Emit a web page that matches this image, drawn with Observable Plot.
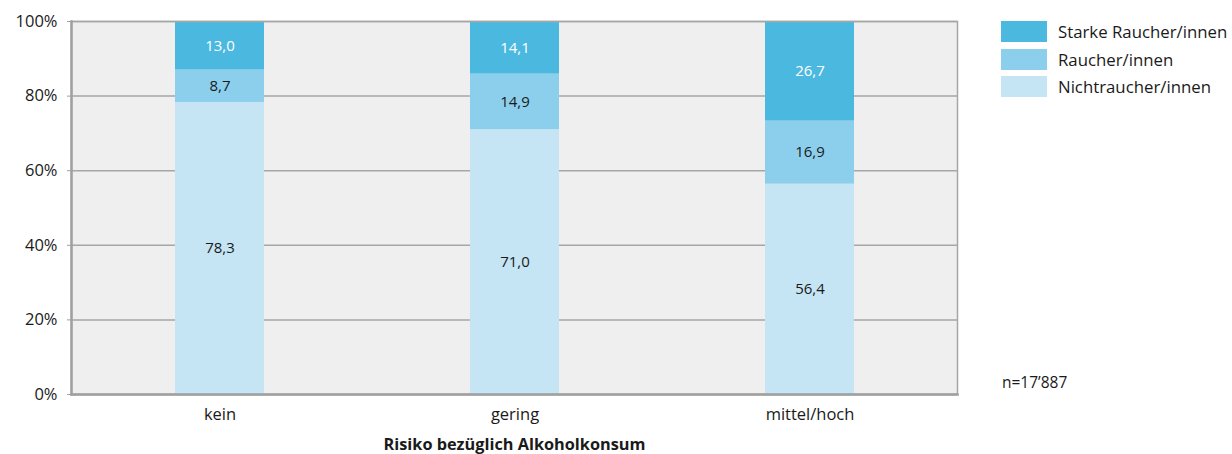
<!DOCTYPE html>
<html>
<head>
<meta charset="utf-8">
<script src="https://cdn.jsdelivr.net/npm/d3@7"></script>
<script src="https://cdn.jsdelivr.net/npm/@observablehq/plot@0.6"></script>
<style>
  html, body { margin: 0; padding: 0; background: #fff; }
  #wrap { position: relative; width: 1232px; height: 454px; font-family: "Open Sans", sans-serif; color: #1a1a1a; }
  #legend { position: absolute; left: 1001px; top: 18px; }
  .item { display: flex; align-items: center; height: 27.5px; font-size: 16.8px; }
  .sw { width: 46px; height: 21px; margin-right: 11px; flex: none; }
  #note { position: absolute; left: 1002px; top: 371px; font-size: 15.5px; }
</style>
</head>
<body>
<div id="wrap"></div>
<script>
const categories = ["kein", "gering", "mittel/hoch"];
const series = ["Nichtraucher/innen", "Raucher/innen", "Starke Raucher/innen"];
const nichtraucher = [78.3, 71.0, 56.4];
const raucher = [8.7, 14.9, 16.9];
const starkeRaucher = [13.0, 14.1, 26.7];
const colors = ["#c5e5f5", "#8ccfec", "#4bb8df"];
const yTicks = [0, 20, 40, 60, 80, 100];
const legendOrder = ["Starke Raucher/innen", "Raucher/innen", "Nichtraucher/innen"];
const note = "n=17’887";
const xTitle = "Risiko bezüglich Alkoholkonsum";

const valuesBySeries = [nichtraucher, raucher, starkeRaucher];
const data = [];
series.forEach((s, si) => categories.forEach((c, ci) => data.push({cat: c, series: s, value: valuesBySeries[si][ci]})));

const fmt = v => v.toFixed(1).replace(".", ",");

const chart = Plot.plot({
  width: 1232,
  height: 454,
  marginLeft: 71,
  marginRight: 275,
  marginTop: 21,
  marginBottom: 60,
  style: {fontFamily: "'Open Sans', sans-serif", fontSize: "16px", color: "#1a1a1a", background: "transparent"},
  x: {domain: categories, paddingInner: 0.7, paddingOuter: 0.35, label: null},
  y: {domain: [0, 100], label: null},
  color: {domain: series, range: colors},
  marks: [
    Plot.frame({fill: "#efefef", stroke: null}),
    Plot.ruleY(yTicks, {stroke: "#a6a6a6", strokeWidth: 1.5}),
    Plot.barY(data, Plot.stackY({x: "cat", y: "value", z: "series", fill: "series", order: series})),
    Plot.text(data, Plot.stackY({
      x: "cat", y: "value", z: "series", order: series,
      text: d => fmt(d.value),
      fill: d => d.series === "Starke Raucher/innen" ? "#ffffff" : "#1a1a1a",
      fontSize: 15
    })),
    Plot.frame({stroke: "#a6a6a6", strokeWidth: 1.5}),
    Plot.frame({anchor: "left", stroke: "#a0a0a0", strokeWidth: 2.5}),
    Plot.frame({anchor: "bottom", stroke: "#a0a0a0", strokeWidth: 2.5}),
    Plot.axisY({ticks: yTicks, tickFormat: d => d + "%", tickSize: 4, tickPadding: 10, stroke: "#a0a0a0", fontSize: 16.5}),
    Plot.axisX({tickSize: 0, tickPadding: 14, fontSize: 16.5}),
    Plot.text([xTitle], {frameAnchor: "bottom", dy: 55, fontWeight: "bold", fontSize: 16.3})
  ]
});

const wrap = document.getElementById("wrap");
wrap.appendChild(chart);

const legend = document.createElement("div");
legend.id = "legend";
legendOrder.forEach(s => {
  const it = document.createElement("div");
  it.className = "item";
  const sw = document.createElement("div");
  sw.className = "sw";
  sw.style.background = colors[series.indexOf(s)];
  it.appendChild(sw);
  const t = document.createElement("span");
  t.textContent = s;
  it.appendChild(t);
  legend.appendChild(it);
});
wrap.appendChild(legend);

const n = document.createElement("div");
n.id = "note";
n.textContent = note;
wrap.appendChild(n);
</script>
</body>
</html>
